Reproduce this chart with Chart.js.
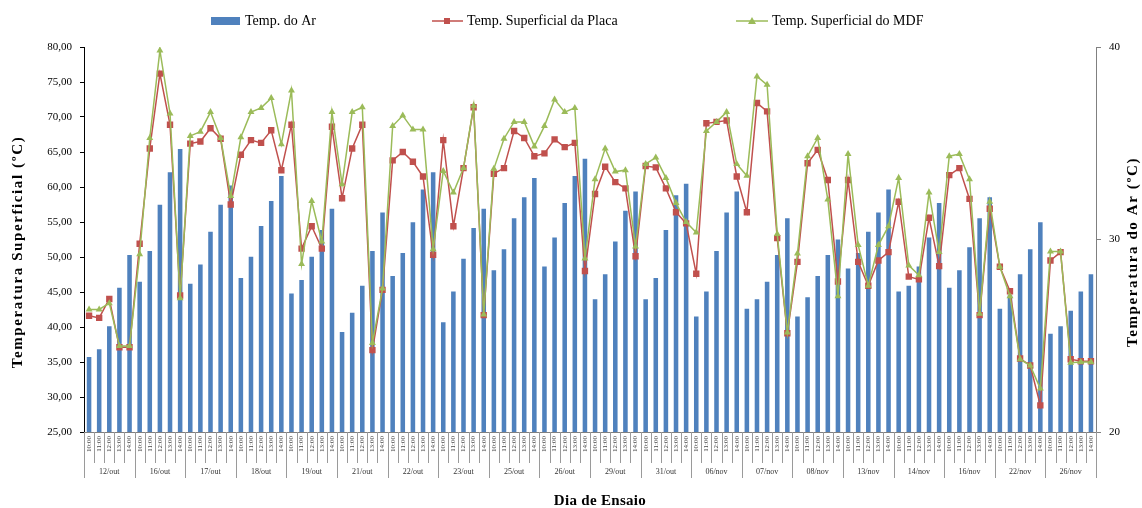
<!DOCTYPE html>
<html lang="pt">
<head>
  <meta charset="UTF-8">
  <script src="https://cdn.jsdelivr.net/npm/chart.js"></script>
  <style>
    html, body {
      margin: 0;
      padding: 0;
      background: #fff;
    }

    .chart-box {
      position: relative;
      width: 1142px;
      height: 508px;
    }
  </style>
</head>
<body>
  <div class="chart-box">
    <canvas id="ensaio-chart"></canvas>
  </div>
  <script>
    const days = ['12/out', '16/out', '17/out', '18/out', '19/out', '21/out', '22/out', '23/out', '25/out', '26/out',
      '29/out', '31/out', '06/nov', '07/nov', '08/nov', '13/nov', '14/nov', '16/nov', '22/nov', '26/nov'];
    const hours = ['10:00', '11:00', '12:00', '13:00', '14:00'];

    // Temp. do Ar (eixo direito, 20-40)
    const tempAr = [
      23.9, 24.3, 25.5, 27.5, 29.2,   27.8, 29.4, 31.8, 33.5, 34.7,
      27.7, 28.7, 30.4, 31.8, 32.8,   28.0, 29.1, 30.7, 32.0, 33.3,
      27.2, 27.9, 29.1, 30.5, 31.6,   25.2, 26.2, 27.6, 29.4, 31.4,
      28.1, 29.3, 30.9, 32.6, 33.5,   25.7, 27.3, 29.0, 30.6, 31.6,
      28.4, 29.5, 31.1, 32.2, 33.2,   28.6, 30.1, 31.9, 33.3, 34.2,
      26.9, 28.2, 29.9, 31.5, 32.5,   26.9, 28.0, 30.5, 32.3, 32.9,
      26.0, 27.3, 29.4, 31.4, 32.5,   26.4, 26.9, 27.8, 29.2, 31.1,
      26.0, 27.0, 28.1, 29.2, 30.0,   28.5, 29.3, 30.4, 31.4, 32.6,
      27.3, 27.6, 28.6, 30.1, 31.9,   27.5, 28.4, 29.6, 31.1, 32.2,
      26.4, 27.1, 28.2, 29.5, 30.9,   25.1, 25.5, 26.3, 27.3, 28.2
    ];

    // Temp. Superficial da Placa (eixo esquerdo)
    const tempPlaca = [
      41.6, 41.3, 44.0, 37.1, 37.1,   51.9, 65.5, 76.2, 68.9, 44.5,
      66.2, 66.5, 68.4, 66.9, 57.5,   64.6, 66.7, 66.3, 68.1, 62.4,
      68.9, 51.2, 54.4, 51.2, 68.6,   58.4, 65.5, 68.9, 36.7, 45.3,
      63.8, 65.0, 63.6, 61.5, 50.3,   66.7, 54.4, 62.7, 71.4, 41.7,
      61.9, 62.7, 68.0, 67.0, 64.4,   64.8, 66.8, 65.7, 66.3, 48.0,
      59.0, 62.9, 60.7, 59.8, 50.1,   63.0, 62.8, 59.8, 56.4, 54.8,
      47.6, 69.1, 69.3, 69.5, 61.5,   56.4, 72.0, 70.8, 52.7, 39.1,
      49.3, 63.4, 65.3, 61.0, 46.5,   61.0, 49.3, 45.9, 49.5, 50.7,
      57.9, 47.2, 46.8, 55.6, 48.7,   61.7, 62.7, 58.3, 41.7, 56.9,
      48.6, 45.1, 35.5, 34.5, 28.8,   49.5, 50.7, 35.4, 35.1, 35.1
    ];

    // Temp. Superficial do MDF (eixo esquerdo)
    const tempMDF = [
      42.5, 42.5, 43.4, 37.3, 37.3,   50.4, 67.0, 79.5, 70.5, 44.1,
      67.3, 67.9, 70.7, 67.0, 58.7,   67.1, 70.7, 71.3, 72.7, 66.1,
      73.8, 49.0, 58.0, 52.2, 70.7,   60.4, 70.7, 71.4, 37.7, 45.5,
      68.7, 70.2, 68.2, 68.2, 51.1,   62.3, 59.2, 62.7, 71.6, 41.8,
      62.6, 66.9, 69.3, 69.3, 65.8,   68.7, 72.5, 70.7, 71.3, 49.8,
      61.1, 65.5, 62.2, 62.4, 51.5,   63.3, 64.2, 61.3, 57.7, 55.0,
      53.5, 68.0, 69.3, 70.7, 63.3,   61.6, 75.8, 74.6, 53.3, 39.2,
      50.5, 64.4, 67.0, 58.2, 44.4,   64.7, 51.7, 45.9, 51.7, 54.4,
      61.3, 48.8, 47.4, 59.2, 50.7,   64.4, 64.7, 61.1, 41.9, 57.9,
      48.6, 44.4, 35.4, 34.5, 31.2,   50.8, 50.8, 34.9, 35.0, 35.0
    ];

    const labels = days.flatMap(() => hours);
    const serif = '"Liberation Serif", "Times New Roman", serif';

    const barColor = '#4F81BD';
    const placaColor = '#C0504D';
    const mdfColor = '#9BBB59';

    function drawTitle(ctx, text, x, y, angle, spacing) {
      ctx.save();
      ctx.translate(x, y);
      ctx.rotate(angle);
      ctx.font = 'bold 15px ' + serif;
      ctx.letterSpacing = spacing + 'px';
      ctx.textAlign = 'center';
      ctx.textBaseline = 'middle';
      ctx.fillStyle = '#000';
      ctx.fillText(text, 0, 0);
      ctx.restore();
    }

    // legenda, rótulos dos dias e títulos dos eixos
    const decorPlugin = {
      id: 'decor',
      afterDraw(chart) {
        const { ctx, chartArea, scales } = chart;
        const xs = scales.x;
        const n = labels.length;
        const step = xs.getPixelForValue(1) - xs.getPixelForValue(0);
        const x0 = xs.getPixelForValue(0) - step / 2;

        ctx.save();
        ctx.strokeStyle = '#9a9a9a';
        ctx.lineWidth = 1;
        for (let i = 0; i <= n; i++) {
          const x = Math.round(x0 + i * step) + 0.5;
          const len = i % hours.length === 0 ? 46 : 31;
          ctx.beginPath();
          ctx.moveTo(x, chartArea.bottom);
          ctx.lineTo(x, chartArea.bottom + len);
          ctx.stroke();
        }

        ctx.fillStyle = '#333';
        ctx.font = '8px ' + serif;
        ctx.textAlign = 'center';
        ctx.textBaseline = 'middle';
        days.forEach((d, k) => {
          const x = x0 + (k + 0.5) * hours.length * step;
          ctx.fillText(d, x, chartArea.bottom + 40);
        });

        // legenda
        const ly = 21;
        ctx.font = '14px ' + serif;
        ctx.textAlign = 'left';

        ctx.fillStyle = barColor;
        ctx.fillRect(211, ly - 4, 29, 8);
        ctx.fillStyle = '#000';
        ctx.fillText(chart.data.datasets[0].label, 245, ly);

        ctx.strokeStyle = placaColor;
        ctx.lineWidth = 1.5;
        ctx.beginPath();
        ctx.moveTo(432, ly);
        ctx.lineTo(463, ly);
        ctx.stroke();
        ctx.fillStyle = placaColor;
        ctx.fillRect(444, ly - 3, 6, 6);
        ctx.fillStyle = '#000';
        ctx.fillText(chart.data.datasets[1].label, 467, ly);

        ctx.strokeStyle = mdfColor;
        ctx.beginPath();
        ctx.moveTo(736, ly);
        ctx.lineTo(768, ly);
        ctx.stroke();
        ctx.fillStyle = mdfColor;
        ctx.beginPath();
        ctx.moveTo(752, ly - 4);
        ctx.lineTo(756, ly + 3);
        ctx.lineTo(748, ly + 3);
        ctx.closePath();
        ctx.fill();
        ctx.fillStyle = '#000';
        ctx.fillText(chart.data.datasets[2].label, 772, ly);
        ctx.restore();

        drawTitle(ctx, 'Temperatura Superficial (ºC)', 18, 252, -Math.PI / 2, 1.6);
        drawTitle(ctx, 'Temperatura do Ar (ºC)', 1133, 252, -Math.PI / 2, 1.6);
        drawTitle(ctx, 'Dia de Ensaio', 600, 501, 0, 0.3);
      }
    };

    new Chart(document.getElementById('ensaio-chart'), {
      type: 'bar',
      data: {
        labels: labels,
        datasets: [
          {
            type: 'bar',
            label: 'Temp. do Ar',
            data: tempAr,
            yAxisID: 'y1',
            backgroundColor: barColor,
            barPercentage: 0.45,
            categoryPercentage: 1.0,
            order: 3
          },
          {
            type: 'line',
            label: 'Temp. Superficial da Placa',
            data: tempPlaca,
            yAxisID: 'y',
            borderColor: placaColor,
            backgroundColor: placaColor,
            borderWidth: 1.5,
            pointStyle: 'rect',
            pointRadius: 4.5,
            pointBorderWidth: 0,
            tension: 0,
            order: 2
          },
          {
            type: 'line',
            label: 'Temp. Superficial do MDF',
            data: tempMDF,
            yAxisID: 'y',
            borderColor: mdfColor,
            backgroundColor: mdfColor,
            borderWidth: 1.5,
            pointStyle: 'triangle',
            pointRadius: 4,
            pointBorderWidth: 0,
            tension: 0,
            order: 1
          }
        ]
      },
      options: {
        responsive: true,
        maintainAspectRatio: false,
        animation: false,
        layout: { padding: { top: 47, left: 0, right: 0, bottom: 0 } },
        plugins: {
          legend: { display: false },
          tooltip: { enabled: false }
        },
        scales: {
          x: {
            offset: true,
            grid: { display: false, drawTicks: false },
            border: { display: true, color: '#808080' },
            ticks: {
              autoSkip: false,
              minRotation: 90,
              maxRotation: 90,
              padding: 4,
              color: '#444',
              font: { family: serif, size: 7 }
            },
            afterFit(scale) { scale.height = 76; }
          },
          y: {
            position: 'left',
            min: 25,
            max: 80,
            grid: { drawOnChartArea: false, drawTicks: true, tickLength: 4, color: '#000' },
            border: { display: true, color: '#000' },
            ticks: {
              stepSize: 5,
              padding: 8,
              color: '#000',
              font: { family: serif, size: 11 },
              callback: v => v.toFixed(2).replace('.', ',')
            },
            afterFit(scale) { scale.width = 84; }
          },
          y1: {
            position: 'right',
            min: 20,
            max: 40,
            grid: { drawOnChartArea: false, drawTicks: true, tickLength: 5, color: '#808080' },
            border: { display: true, color: '#808080' },
            ticks: {
              stepSize: 10,
              padding: 8,
              color: '#000',
              font: { family: serif, size: 11 }
            },
            afterFit(scale) { scale.width = 46; }
          }
        }
      },
      plugins: [decorPlugin]
    });
  </script>
</body>
</html>
